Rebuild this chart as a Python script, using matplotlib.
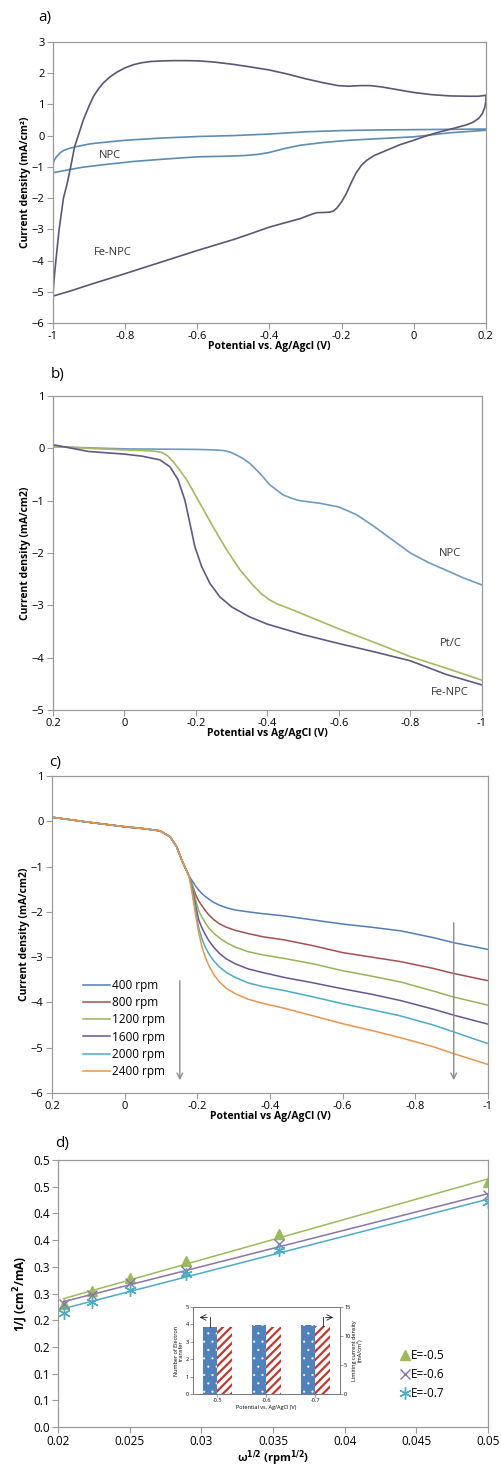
import numpy as np
import matplotlib
matplotlib.use('Agg')
import matplotlib.pyplot as plt

plt.rcParams['font.family'] = ['Open Sans', 'DejaVu Sans']
plt.rcParams['mathtext.fontset'] = 'dejavusans'

###########################################################
# data

# a) cyclic voltammograms (upper branch then lower branch)
fe_cv_x = [-1.0, -0.997, -0.992, -0.983, -0.971, -0.962, -0.951, -0.94, -0.93,
           -0.916, -0.9, -0.888, -0.875, -0.861, -0.843, -0.823, -0.8, -0.777,
           -0.755, -0.731, -0.7, -0.667, -0.63, -0.593, -0.55, -0.5, -0.454,
           -0.4, -0.35, -0.3, -0.25, -0.21, -0.18, -0.15, -0.12, -0.09, -0.05,
           0.0, 0.05, 0.1, 0.15, 0.18, 0.2,
           0.2, 0.197, 0.19, 0.18, 0.165, 0.145, 0.12, 0.09, 0.06, 0.03, 0.0,
           -0.04, -0.085, -0.11, -0.13, -0.145, -0.16, -0.175, -0.187, -0.2,
           -0.213, -0.222, -0.232, -0.245, -0.27, -0.29, -0.315, -0.35, -0.4,
           -0.454, -0.5, -0.6, -0.7, -0.8, -0.9, -0.95, -1.0, -1.0]
fe_cv_y = [-5.1, -4.6, -4.0, -3.0, -2.0, -1.6, -1.0, -0.35, 0.0,
           0.5, 0.95, 1.25, 1.48, 1.68, 1.87, 2.03, 2.17, 2.27,
           2.33, 2.37, 2.39, 2.4, 2.4, 2.39, 2.35, 2.28, 2.2,
           2.1, 1.97, 1.82, 1.69, 1.6, 1.58, 1.6, 1.6, 1.56, 1.48,
           1.38, 1.31, 1.27, 1.26, 1.26, 1.29,
           1.1, 0.9, 0.7, 0.55, 0.43, 0.34, 0.26, 0.17, 0.08, -0.03, -0.15,
           -0.3, -0.52, -0.64, -0.79, -0.95, -1.2, -1.55, -1.86, -2.12,
           -2.32, -2.41, -2.45, -2.46, -2.47, -2.55, -2.66, -2.77, -2.93,
           -3.15, -3.33, -3.68, -4.05, -4.42, -4.78, -4.97, -5.14, -5.1]
npc_cv_x = [-1.0, -0.997, -0.99, -0.98, -0.971, -0.955, -0.934, -0.9, -0.87,
            -0.8, -0.7, -0.6, -0.5, -0.4, -0.3, -0.2, -0.1, 0.0, 0.1, 0.2,
            0.2, 0.1, 0.0, -0.1, -0.178, -0.25, -0.315, -0.36, -0.4, -0.43,
            -0.47, -0.52, -0.6, -0.7, -0.778, -0.85, -0.916, -0.96, -1.0, -1.0]
npc_cv_y = [-0.94, -0.8, -0.67, -0.55, -0.48, -0.41, -0.35, -0.27, -0.23,
            -0.15, -0.08, -0.03, 0.0, 0.05, 0.12, 0.16, 0.18, 0.19, 0.2, 0.21,
            0.17, 0.09, -0.04, -0.1, -0.15, -0.22, -0.31, -0.42, -0.54, -0.6,
            -0.64, -0.66, -0.68, -0.76, -0.83, -0.92, -1.01, -1.1, -1.19, -0.94]

# b) LSV of the three catalysts
lsv_fe_x = [0.2, 0.1, 0.0, -0.05, -0.099, -0.127, -0.15, -0.169, -0.183, -0.197,
            -0.216, -0.239, -0.267, -0.3, -0.35, -0.4, -0.5, -0.6, -0.7, -0.8,
            -0.9, -1.0]
lsv_fe_y = [0.07, -0.06, -0.11, -0.15, -0.22, -0.35, -0.6, -0.99, -1.43, -1.88,
            -2.26, -2.58, -2.84, -3.03, -3.22, -3.36, -3.56, -3.73, -3.89, -4.06,
            -4.32, -4.52]
lsv_pt_x = [0.2, 0.1, 0.0, -0.08, -0.105, -0.12, -0.137, -0.155, -0.174, -0.211,
            -0.248, -0.286, -0.323, -0.36, -0.385, -0.407, -0.43, -0.472, -0.5,
            -0.6, -0.7, -0.8, -0.9, -1.0]
lsv_pt_y = [0.04, 0.0, -0.03, -0.05, -0.08, -0.14, -0.26, -0.42, -0.6, -1.05,
            -1.5, -1.94, -2.32, -2.62, -2.79, -2.9, -2.98, -3.09, -3.17,
            -3.45, -3.71, -3.98, -4.2, -4.43]
lsv_npc_x = [0.2, 0.0, -0.2, -0.25, -0.275, -0.295, -0.314, -0.333, -0.351,
             -0.379, -0.407, -0.444, -0.47, -0.491, -0.547, -0.6, -0.65, -0.7,
             -0.75, -0.8, -0.85, -0.9, -0.95, -1.0]
lsv_npc_y = [0.03, -0.01, -0.02, -0.03, -0.04, -0.07, -0.13, -0.2, -0.29,
             -0.48, -0.7, -0.89, -0.96, -1.0, -1.05, -1.12, -1.27, -1.5,
             -1.75, -2.0, -2.18, -2.33, -2.48, -2.61]

# c) LSV at several rotation rates
rpm_labels = ['400 rpm', '800 rpm', '1200 rpm', '1600 rpm', '2000 rpm', '2400 rpm']
rot_x = [0.2, 0.1, 0.0, -0.05, -0.097, -0.125, -0.143, -0.157, -0.168, -0.178,
         -0.188, -0.196, -0.204, -0.213, -0.222, -0.232, -0.245, -0.26, -0.28,
         -0.305, -0.34, -0.38, -0.44, -0.52, -0.6, -0.68, -0.76, -0.85, -0.905, -1.0]
rot_common = [0.09, -0.02, -0.12, -0.16, -0.21, -0.34, -0.56, -0.85, -1.05, -1.22]
rot_tail = [
    [-1.34, -1.44, -1.52, -1.6, -1.66, -1.72, -1.79, -1.85, -1.91, -1.96, -2.0,
     -2.04, -2.09, -2.18, -2.27, -2.34, -2.42, -2.57, -2.68, -2.83],
    [-1.45, -1.63, -1.76, -1.87, -1.97, -2.07, -2.17, -2.26, -2.34, -2.41, -2.48,
     -2.55, -2.62, -2.75, -2.9, -3.0, -3.1, -3.25, -3.36, -3.52],
    [-1.48, -1.75, -1.98, -2.12, -2.24, -2.36, -2.47, -2.57, -2.68, -2.78, -2.88,
     -2.95, -3.03, -3.15, -3.3, -3.42, -3.55, -3.75, -3.88, -4.06],
    [-1.55, -1.88, -2.18, -2.36, -2.5, -2.64, -2.78, -2.91, -3.04, -3.15, -3.26,
     -3.34, -3.45, -3.57, -3.7, -3.82, -3.96, -4.15, -4.28, -4.48],
    [-1.62, -2.0, -2.36, -2.6, -2.78, -2.93, -3.08, -3.21, -3.34, -3.45, -3.57,
     -3.65, -3.74, -3.88, -4.03, -4.16, -4.3, -4.5, -4.65, -4.91],
    [-1.7, -2.1, -2.46, -2.78, -3.0, -3.19, -3.38, -3.54, -3.69, -3.81, -3.93,
     -4.02, -4.13, -4.3, -4.47, -4.62, -4.78, -4.98, -5.13, -5.37],
]

# d) Koutecky-Levich
kl_x = [0.0204, 0.0224, 0.025, 0.0289, 0.0354, 0.05]
kl_e5 = [0.231, 0.255, 0.279, 0.31, 0.361, 0.459]
kl_e6 = [0.231, 0.247, 0.27, 0.2925, 0.3425, 0.434]
kl_e7 = [0.214, 0.234, 0.2575, 0.286, 0.331, 0.422]
kl_labels = ['E=-0.5', 'E=-0.6', 'E=-0.7']
kl_yticks = [0.0, 0.05, 0.1, 0.15, 0.2, 0.25, 0.3, 0.35, 0.4, 0.45, 0.5]
kl_yticklabels = ['0.0', '0.1', '0.1', '0.2', '0.2', '0.3', '0.3', '0.4', '0.4', '0.5', '0.5']

# inset
inset_cats = ['-0.5', '-0.6', '-0.7']
n_electron = [3.85, 3.98, 3.95]
lim_current = [11.5, 11.5, 11.7]

###########################################################
# helpers

spine_col = '#9a9a9a'

def style_axes(ax):
    for s in ax.spines.values():
        s.set_color(spine_col)
        s.set_linewidth(0.9)
    ax.tick_params(direction='out', length=4, width=0.8, color=spine_col,
                   labelsize=8, pad=2)

def fmt(v):
    return '%g' % (round(v, 3) + 0.0)

###########################################################
# figure

fig = plt.figure(figsize=(5.01, 14.7), dpi=100)
xt = np.arange(-1.0, 0.21, 0.2)
lab_kw = dict(fontsize=7.5, fontweight='bold')

# a)
ax1 = fig.add_axes([0.1058, 0.7803, 0.864, 0.1912])
ax1.plot(npc_cv_x, npc_cv_y, color='#5b8db5', lw=1.2)
ax1.plot(fe_cv_x, fe_cv_y, color='#5b5675', lw=1.2)
ax1.set_xlim(-1, 0.2)
ax1.set_ylim(-6, 3)
ax1.set_xticks(xt)
ax1.set_xticklabels([fmt(v) for v in xt])
ax1.set_yticks(range(-6, 4))
style_axes(ax1)
ax1.set_xlabel('Potential vs. Ag/Agcl (V)', labelpad=-1, **lab_kw)
ax1.set_ylabel('Current density (mA/cm²)', labelpad=1, **lab_kw)
ax1.text(-0.842, -0.64, 'NPC', fontsize=8, ha='center', va='center', color='#333333')
ax1.text(-0.834, -3.73, 'Fe-NPC', fontsize=8, ha='center', va='center', color='#333333')
fig.text(0.09, 0.9884, 'a)', fontsize=11, ha='center', va='center')

# b)
ax2 = fig.add_axes([0.1058, 0.517, 0.856, 0.2136])
ax2.plot(lsv_npc_x, lsv_npc_y, color='#6d9bc3', lw=1.2)
ax2.plot(lsv_pt_x, lsv_pt_y, color='#aab85a', lw=1.2)
ax2.plot(lsv_fe_x, lsv_fe_y, color='#5d5a86', lw=1.2)
ax2.set_xlim(0.2, -1)
ax2.set_ylim(-5, 1)
ax2.set_xticks(xt)
ax2.set_xticklabels([fmt(v) for v in xt])
ax2.set_yticks(range(-5, 2))
style_axes(ax2)
ax2.set_xlabel('Potential vs Ag/AgCl (V)', labelpad=-1, **lab_kw)
ax2.set_ylabel('Current density (mA/cm2)', labelpad=1, **lab_kw)
ax2.text(-0.91, -2.0, 'NPC', fontsize=8, ha='center', va='center', color='#333333')
ax2.text(-0.913, -3.72, 'Pt/C', fontsize=8, ha='center', va='center', color='#333333')
ax2.text(-0.91, -4.66, 'Fe-NPC', fontsize=8, ha='center', va='center', color='#333333')
fig.text(0.116, 0.745, 'b)', fontsize=11, ha='center', va='center')

# c)
ax3 = fig.add_axes([0.1038, 0.2565, 0.870, 0.2156])
rpm_colors = ['#4f7fb8', '#a5504f', '#96b457', '#6a5490', '#4aabc8', '#e8964a']
for lab, tail, c in zip(rpm_labels, rot_tail, rpm_colors):
    ax3.plot(rot_x, rot_common + tail, color=c, lw=1.1, label=lab)
ax3.set_xlim(0.2, -1)
ax3.set_ylim(-6, 1)
ax3.set_xticks(xt)
ax3.set_xticklabels([fmt(v) for v in xt])
ax3.set_yticks(range(-6, 2))
style_axes(ax3)
ax3.set_xlabel('Potential vs Ag/AgCl (V)', labelpad=-1, **lab_kw)
ax3.set_ylabel('Current density (mA/cm2)', labelpad=1, **lab_kw)
ax3.legend(loc='upper left', bbox_to_anchor=(0.06, 0.375), frameon=False,
           fontsize=8.5, handlelength=2.3, handletextpad=0.2, labelspacing=0.36,
           borderaxespad=0)
arr = dict(arrowstyle='->', color='#8c8c8c', lw=1.0)
ax3.annotate('', xy=(-0.152, -5.78), xytext=(-0.152, -3.46), arrowprops=arr)
ax3.annotate('', xy=(-0.906, -5.78), xytext=(-0.906, -2.18), arrowprops=arr)
fig.text(0.11, 0.481, 'c)', fontsize=11, ha='center', va='center')

# d)
ax4 = fig.add_axes([0.1158, 0.02925, 0.858, 0.1816])
kl_sets = [(kl_e5, '#9bbb59', '^', 7, kl_labels[0]),
           (kl_e6, '#8a74a8', 'x', 7, kl_labels[1]),
           (kl_e7, '#4bacc6', (6, 2, 0), 9, kl_labels[2])]
xs = np.array(kl_x)
for ys, c, m, ms, lab in kl_sets:
    p = np.polyfit(xs, ys, 1)
    ax4.plot(xs, np.polyval(p, xs), color=c, lw=1.1)
    ax4.plot(xs, ys, linestyle='none', marker=m, color=c, ms=ms, mew=1.0, label=lab)
ax4.set_xlim(0.02, 0.05)
ax4.set_ylim(0, 0.5)
ax4.set_xticks([0.02, 0.025, 0.03, 0.035, 0.04, 0.045, 0.05])
ax4.set_xticklabels(['0.02', '0.025', '0.03', '0.035', '0.04', '0.045', '0.05'])
ax4.set_yticks(kl_yticks)
ax4.set_yticklabels(kl_yticklabels)
style_axes(ax4)
ax4.tick_params(labelsize=8.5)
ax4.set_xlabel(r'ω$^{\mathbf{1/2}}$ (rpm$^{\mathbf{1/2}}$)', fontsize=8, fontweight='bold', labelpad=0)
ax4.set_ylabel(r'1/J (cm$^{\mathbf{2}}$/mA)', fontsize=8.5, fontweight='bold', labelpad=2)
ax4.legend(loc='upper left', bbox_to_anchor=(0.785, 0.31), frameon=False,
           fontsize=8.5, handlelength=0.8, handletextpad=0.1, labelspacing=0.5,
           borderaxespad=0)
fig.text(0.124, 0.2224, 'd)', fontsize=11, ha='center', va='center')

# inset
axi = fig.add_axes([0.385, 0.0517, 0.2934, 0.0592])
pos = np.arange(len(inset_cats))
with plt.rc_context({'hatch.linewidth': 0.3}):
    axi.bar(pos - 0.15, n_electron, width=0.3, color='#4f81bd', edgecolor='white',
            hatch='..', lw=0)
axi.set_ylim(0, 5)
axi.set_xlim(-0.5, 2.5)
axi.set_xticks(pos)
axi.set_xticklabels(inset_cats)
axi.set_yticks(range(0, 6))
axr = axi.twinx()
with plt.rc_context({'hatch.linewidth': 1.6}):
    axr.bar(pos + 0.15, lim_current, width=0.3, color='white', edgecolor='#c0392b',
            hatch='////', lw=0)
axr.set_ylim(0, 15)
axr.set_yticks([0, 5, 10, 15])
for a in (axi, axr):
    for s in a.spines.values():
        s.set_color('#777777')
        s.set_linewidth(0.6)
    a.tick_params(labelsize=4, length=2, width=0.5, pad=1, color='#777777')
axi.set_xlabel('Potential vs. Ag/AgCl (V)', fontsize=4, labelpad=1)
axi.set_ylabel('Number of Electron\ntransfer', fontsize=4, labelpad=1, linespacing=1.0)
axr.set_ylabel('Limiting current density\n(mA/cm²)', fontsize=4, labelpad=1, linespacing=1.0)
axi.plot([-0.15, -0.15], [n_electron[0], 4.4], color='#222222', lw=0.6)
axi.annotate('', xy=(-0.42, 4.4), xytext=(-0.15, 4.4),
             arrowprops=dict(arrowstyle='->', color='#222222', lw=0.6))
axr.plot([2.15, 2.15], [lim_current[2], 13.2], color='#222222', lw=0.6)
axr.annotate('', xy=(2.42, 13.2), xytext=(2.15, 13.2),
             arrowprops=dict(arrowstyle='->', color='#222222', lw=0.6))

fig.savefig('out.png', dpi=100)
